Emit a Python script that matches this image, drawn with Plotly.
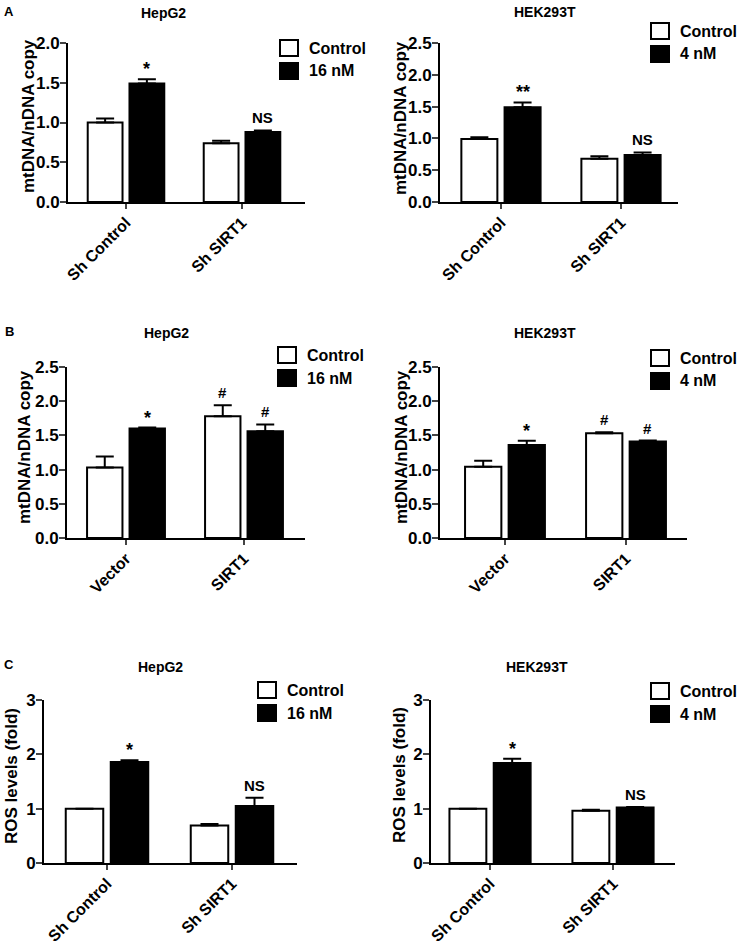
import plotly.graph_objects as go

W, H = 743, 951

# ---------------- data ----------------
groups_A = ["Sh Control", "Sh SIRT1"]
groups_B = ["Vector", "SIRT1"]
groups_C = ["Sh Control", "Sh SIRT1"]

series_ctrl = "Control"
series_hep = "16 nM"
series_hek = "4 nM"

# Panel A - HepG2
A_hep_ctrl = [1.00, 0.74]
A_hep_ctrl_err = [0.05, 0.03]
A_hep_trt = [1.49, 0.88]
A_hep_trt_err = [0.055, 0.02]
A_hep_sig_ctrl = ["", ""]
A_hep_sig_trt = ["*", "NS"]

# Panel A - HEK293T
A_hek_ctrl = [0.99, 0.68]
A_hek_ctrl_err = [0.03, 0.04]
A_hek_trt = [1.49, 0.74]
A_hek_trt_err = [0.075, 0.04]
A_hek_sig_ctrl = ["", ""]
A_hek_sig_trt = ["**", "NS"]

# Panel B - HepG2
B_hep_ctrl = [1.03, 1.78]
B_hep_ctrl_err = [0.16, 0.16]
B_hep_trt = [1.60, 1.56]
B_hep_trt_err = [0.015, 0.10]
B_hep_sig_ctrl = ["", "#"]
B_hep_sig_trt = ["*", "#"]

# Panel B - HEK293T
B_hek_ctrl = [1.04, 1.53]
B_hek_ctrl_err = [0.09, 0.015]
B_hek_trt = [1.36, 1.41]
B_hek_trt_err = [0.06, 0.015]
B_hek_sig_ctrl = ["", "#"]
B_hek_sig_trt = ["*", "#"]

# Panel C - HepG2
C_hep_ctrl = [1.00, 0.69]
C_hep_ctrl_err = [0.0, 0.03]
C_hep_trt = [1.86, 1.05]
C_hep_trt_err = [0.03, 0.15]
C_hep_sig_ctrl = ["", ""]
C_hep_sig_trt = ["*", "NS"]

# Panel C - HEK293T
C_hek_ctrl = [1.00, 0.96]
C_hek_ctrl_err = [0.0, 0.02]
C_hek_trt = [1.84, 1.02]
C_hek_trt_err = [0.08, 0.01]
C_hek_sig_ctrl = ["", ""]
C_hek_sig_trt = ["*", "NS"]

ytitle_mt = "mtDNA/nDNA copy"
ytitle_ros = "ROS levels (fold)"
cell_hep = "HepG2"
cell_hek = "HEK293T"

# ---------------- layout ----------------
FONT = "Liberation Sans, Arial, sans-serif"

panels = [
    dict(g=groups_A, c=A_hep_ctrl, ce=A_hep_ctrl_err, t=A_hep_trt, te=A_hep_trt_err,
         sc=A_hep_sig_ctrl, st=A_hep_sig_trt, tn=series_hep, title=cell_hep, yt=ytitle_mt,
         ymax=2.0, dt=0.5, fmt=".1f", box=(68, 305, 43, 202), xr=(-0.5, 1.543),
         tpos=(163, 13), leg=(280, 40), ytpos=(28, 116)),
    dict(g=groups_A, c=A_hek_ctrl, ce=A_hek_ctrl_err, t=A_hek_trt, te=A_hek_trt_err,
         sc=A_hek_sig_ctrl, st=A_hek_sig_trt, tn=series_hek, title=cell_hek, yt=ytitle_mt,
         ymax=2.5, dt=0.5, fmt=".1f", box=(440, 678, 43, 202), xr=(-0.508, 1.475),
         tpos=(545, 12), leg=(651, 23), ytpos=(400, 118)),
    dict(g=groups_B, c=B_hep_ctrl, ce=B_hep_ctrl_err, t=B_hep_trt, te=B_hep_trt_err,
         sc=B_hep_sig_ctrl, st=B_hep_sig_trt, tn=series_hep, title=cell_hep, yt=ytitle_mt,
         ymax=2.5, dt=0.5, fmt=".1f", box=(67, 305, 367, 538), xr=(-0.5, 1.517),
         tpos=(166, 333), leg=(278, 347), ytpos=(25, 447)),
    dict(g=groups_B, c=B_hek_ctrl, ce=B_hek_ctrl_err, t=B_hek_trt, te=B_hek_trt_err,
         sc=B_hek_sig_ctrl, st=B_hek_sig_trt, tn=series_hek, title=cell_hek, yt=ytitle_mt,
         ymax=2.5, dt=0.5, fmt=".1f", box=(440, 687, 367, 538), xr=(-0.537, 1.504),
         tpos=(545, 333), leg=(651, 350), ytpos=(402, 447)),
    dict(g=groups_C, c=C_hep_ctrl, ce=C_hep_ctrl_err, t=C_hep_trt, te=C_hep_trt_err,
         sc=C_hep_sig_ctrl, st=C_hep_sig_trt, tn=series_hep, title=cell_hep, yt=ytitle_ros,
         ymax=3, dt=1, fmt="d", box=(44, 297, 700, 863), xr=(-0.504, 1.52),
         tpos=(160, 667), leg=(258, 682), ytpos=(11, 776)),
    dict(g=groups_C, c=C_hek_ctrl, ce=C_hek_ctrl_err, t=C_hek_trt, te=C_hek_trt_err,
         sc=C_hek_sig_ctrl, st=C_hek_sig_trt, tn=series_hek, title=cell_hek, yt=ytitle_ros,
         ymax=3, dt=1, fmt="d", box=(431, 675, 700, 863), xr=(-0.48, 1.504),
         tpos=(537, 667), leg=(651, 683), ytpos=(399, 775)),
]

fig = go.Figure()
annotations = []
shapes = []
OFF = 0.18
BW = 0.30
LBW, LBH, LPITCH, LTXT = 18, 16, 23, 27


def px_x(v):
    return v / W


def px_y(v):
    return 1 - v / H


for i, p in enumerate(panels, start=1):
    xa = "x" if i == 1 else f"x{i}"
    ya = "y" if i == 1 else f"y{i}"
    idx = list(range(len(p["g"])))
    xc = [k - OFF for k in idx]
    xt = [k + OFF for k in idx]
    series = [(series_ctrl, "white", xc, p["c"], p["ce"], p["sc"]),
              (p["tn"], "black", xt, p["t"], p["te"], p["st"])]
    for name, col, xs, ys, es, sig in series:
        fig.add_trace(go.Bar(
            x=xs, y=ys, width=BW, name=name, xaxis=xa, yaxis=ya, showlegend=False,
            hoverinfo="skip",
            marker=dict(color=col, line=dict(color="black", width=2)),
            error_y=dict(type="data", symmetric=False, array=es,
                         arrayminus=[0] * len(idx), color="black", thickness=2, width=9),
        ))
        for xpos, val, err, lab in zip(xs, ys, es, sig):
            if lab:
                star = lab.startswith("*")
                annotations.append(dict(
                    x=xpos, y=val + err, xref=xa, yref=ya, text=lab, showarrow=False,
                    xanchor="center", yanchor="bottom", yshift=-2 if star else 2,
                    font=dict(family=FONT, size=18 if star else 15,
                              color="black", weight="bold"),
                ))
    # legend (boxes + labels)
    lx, ly = p["leg"]
    for j, (name, col, *_rest) in enumerate(series):
        top = ly + j * LPITCH
        shapes.append(dict(
            type="rect", xref="paper", yref="paper",
            x0=px_x(lx), x1=px_x(lx + LBW), y0=px_y(top + LBH), y1=px_y(top),
            fillcolor=col, line=dict(color="black", width=2), layer="above",
        ))
        annotations.append(dict(
            x=px_x(lx + LTXT), y=px_y(top + LBH / 2), xref="paper", yref="paper",
            text=name, showarrow=False, xanchor="left", yanchor="middle",
            font=dict(family=FONT, size=16, color="black", weight="bold"),
        ))

    x0, x1, y0, y1 = p["box"]
    suf = "" if i == 1 else str(i)
    fig.layout["xaxis" + suf] = dict(
        domain=[px_x(x0), px_x(x1)], anchor=ya, range=list(p["xr"]),
        tickmode="array", tickvals=idx, ticktext=p["g"], tickangle=-45,
        ticks="outside", ticklen=5, tickwidth=2, showline=True, linecolor="black",
        linewidth=2, showgrid=False, zeroline=False, fixedrange=True, automargin=False,
        ticklabelstandoff=-2,
        tickfont=dict(family=FONT, size=16, color="black", weight="bold"),
    )
    fig.layout["yaxis" + suf] = dict(
        domain=[px_y(y1), px_y(y0)], anchor=xa, range=[0, p["ymax"]],
        dtick=p["dt"], tick0=0, tickformat=p["fmt"], ticks="outside", ticklen=6,
        tickwidth=2, showline=True, linecolor="black", linewidth=2, showgrid=False,
        zeroline=False, fixedrange=True, automargin=False, ticklabelstandoff=-3,
        tickfont=dict(family=FONT, size=17, color="black", weight="bold"),
    )
    annotations.append(dict(
        x=px_x(p["ytpos"][0]), y=px_y(p["ytpos"][1]), xref="paper", yref="paper",
        text=p["yt"], textangle=-90, showarrow=False, xanchor="center", yanchor="middle",
        font=dict(family=FONT, size=17, color="black", weight="bold"),
    ))
    annotations.append(dict(
        x=px_x(p["tpos"][0]), y=px_y(p["tpos"][1]), xref="paper", yref="paper",
        text=p["title"], showarrow=False, xanchor="center", yanchor="middle",
        font=dict(family=FONT, size=14, color="black", weight="bold"),
    ))

for letter, (lx, ly) in {"A": (9, 11), "B": (9, 331), "C": (9, 664)}.items():
    annotations.append(dict(
        x=px_x(lx), y=px_y(ly), xref="paper", yref="paper", text=letter,
        showarrow=False, xanchor="center", yanchor="middle",
        font=dict(family=FONT, size=13, color="black", weight="bold"),
    ))

fig.update_layout(
    width=W, height=H, margin=dict(l=0, r=0, t=0, b=0, autoexpand=False),
    paper_bgcolor="white", plot_bgcolor="white", hovermode=False,
    barmode="overlay", annotations=annotations, shapes=shapes, showlegend=False,
)

fig.write_html(
    "out.html",
    config={"displayModeBar": False, "staticPlot": True},
    post_script="document.body.style.margin='0';document.body.style.padding='0';",
)
